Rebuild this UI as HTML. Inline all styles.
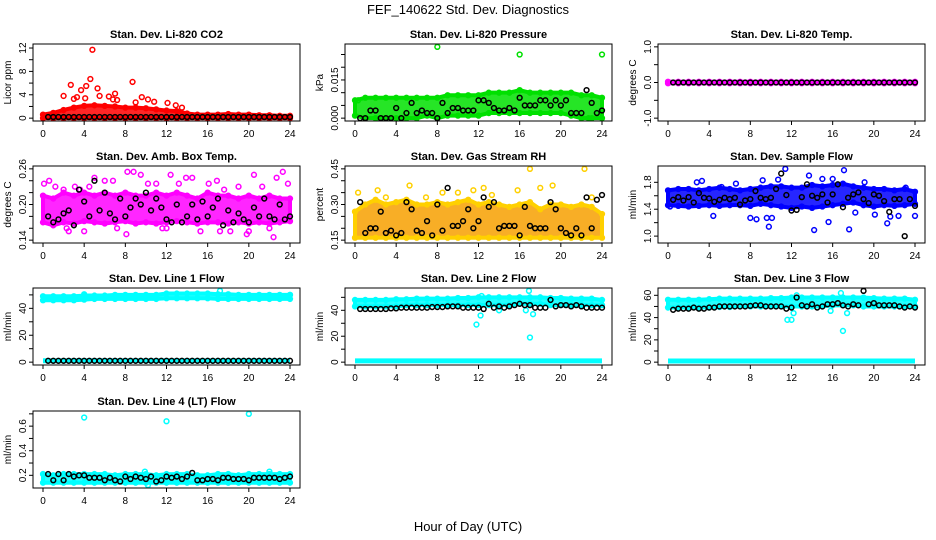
<!DOCTYPE html>
<html><head><meta charset="utf-8">
<style>
html,body{margin:0;padding:0;background:#fff;}
svg{display:block;font-family:"Liberation Sans",sans-serif;}
</style></head>
<body>
<svg id="chart" width="936" height="540" viewBox="0 0 936 540">
<text x="468" y="14" text-anchor="middle" font-size="13">FEF_140622  Std. Dev. Diagnostics</text>
<text x="468" y="531" text-anchor="middle" font-size="13">Hour of Day (UTC)</text>
</svg>
<script>
const HOURS = [0,1,2,3,4,5,6,7,8,9,10,11,12,13,14,15,16,17,18,19,20,21,22,23,24];
const BLACK_T = [0.5,1,1.5,2,2.5,3,3.5,4,4.5,5,5.5,6,6.5,7,7.5,8,8.5,9,9.5,10,10.5,11,11.5,12,12.5,13,13.5,14,14.5,15,15.5,16,16.5,17,17.5,18,18.5,19,19.5,20,20.5,21,21.5,22,22.5,23,23.5,24];
const X_TICKS = [0,4,8,12,16,20,24];

// CO2
const co2Hi = [0.6,0.9,1.4,1.8,2.1,2.2,2.1,2.0,1.8,1.8,1.7,1.5,1.3,1.2,0.8,0.6,0.6,0.6,0.7,0.6,0.6,0.5,0.5,0.4,0.4];
const co2Lo = [0,0,0,0,0,0,0,0,0,0,0,0,0,0,0,0,0,0,0,0,0,0,0,0,0];
const co2Black = [0.2,0.2,0.2,0.2,0.2,0.2,0.2,0.2,0.2,0.2,0.2,0.2,0.2,0.2,0.2,0.2,0.2,0.2,0.2,0.2,0.2,0.2,0.2,0.2,0.2,0.2,0.2,0.2,0.2,0.2,0.2,0.2,0.2,0.2,0.2,0.2,0.2,0.2,0.2,0.2,0.2,0.2,0.2,0.2,0.2,0.2,0.2,0.2];
const co2OutT = [4.8,4.6,2.7,4.2,5.3,3.7,8.7,2.0,7.0,6.4,9.6,3.3,4.1,12.1,10.8,13.5,5.5,6.8,10.2,12.9,3.0,7.2,9.0];
const co2OutV = [11.7,6.7,5.7,5.5,5.1,4.8,6.2,3.8,4.2,3.7,3.6,3.6,3.4,2.6,2.8,1.8,3.8,3.2,3.2,2.2,3.3,3.1,2.7];

// Pressure
const presHi = [0.007,0.008,0.008,0.008,0.008,0.008,0.008,0.008,0.008,0.009,0.009,0.009,0.009,0.010,0.010,0.010,0.011,0.010,0.010,0.010,0.010,0.010,0.009,0.009,0.008];
const presLo = [0.001,0,0,0,0,0,0,0.001,0,0.001,0.001,0.001,0.001,0.002,0.002,0.002,0.002,0.002,0.002,0.002,0.002,0.001,0,0,0];
const presBlack = [0,0,0.003,0.003,0,0,0,0.004,0,0.002,0.006,0.002,0.003,0.002,0.002,0,0.006,0.002,0.004,0.004,0.003,0.003,0.003,0.007,0.007,0.006,0.004,0.003,0.003,0.004,0.003,0.008,0.005,0.005,0.005,0.007,0.007,0.005,0.007,0.005,0.007,0.002,0.002,0.002,0.011,0.006,0.002,0.003];
const presOutT = [8,16,24,22.7,0.3];
const presOutV = [0.028,0.025,0.025,0.000,0.007];

// Li-820 temp
const tempHi = [0.02,0.02,0.02,0.02,0.02,0.02,0.02,0.02,0.02,0.02,0.02,0.02,0.02,0.02,0.02,0.02,0.02,0.02,0.02,0.02,0.02,0.02,0.02,0.02,0.02];
const tempLo = [-0.02,-0.02,-0.02,-0.02,-0.02,-0.02,-0.02,-0.02,-0.02,-0.02,-0.02,-0.02,-0.02,-0.02,-0.02,-0.02,-0.02,-0.02,-0.02,-0.02,-0.02,-0.02,-0.02,-0.02,-0.02];
const tempBlack = [0,0,0,0,0,0,0,0,0,0,0,0,0,0,0,0,0,0,0,0,0,0,0,0,0,0,0,0,0,0,0,0,0,0,0,0,0,0,0,0,0,0,0,0,0,0,0,0];

// Amb box temp
const ambHi = [0.215,0.21,0.22,0.215,0.22,0.215,0.22,0.215,0.22,0.215,0.215,0.22,0.215,0.22,0.215,0.21,0.22,0.215,0.215,0.21,0.215,0.21,0.215,0.21,0.21];
const ambLo = [0.170,0.165,0.170,0.168,0.172,0.170,0.168,0.170,0.172,0.168,0.170,0.168,0.170,0.172,0.170,0.168,0.170,0.170,0.168,0.170,0.168,0.170,0.168,0.170,0.172];
const ambBlack = [0.180,0.170,0.175,0.185,0.190,0.165,0.225,0.205,0.180,0.240,0.190,0.220,0.185,0.175,0.210,0.180,0.195,0.210,0.200,0.220,0.190,0.210,0.195,0.175,0.170,0.200,0.170,0.180,0.200,0.175,0.205,0.180,0.195,0.210,0.165,0.190,0.170,0.185,0.175,0.170,0.195,0.180,0.210,0.180,0.175,0.200,0.175,0.180];
const ambOutT = [0.1,0.6,1.2,2.0,2.5,3.1,3.6,4.5,5.0,6.0,6.8,7.2,8.2,8.8,9.5,10.2,11.0,11.6,12.4,13.2,13.9,14.5,15.3,16.1,16.9,17.6,18.2,19.0,19.8,20.5,21.3,22.0,22.7,23.3,23.8,2.3,4.0,8.1,12.0,17.2,20.0,22.4];
const ambOutV = [0.235,0.24,0.23,0.225,0.155,0.23,0.225,0.23,0.245,0.24,0.24,0.16,0.255,0.255,0.25,0.235,0.235,0.16,0.25,0.235,0.245,0.245,0.155,0.235,0.24,0.225,0.155,0.23,0.15,0.25,0.23,0.16,0.245,0.255,0.235,0.16,0.155,0.15,0.16,0.155,0.155,0.145];

// Gas stream RH
const rhHi = [0.27,0.30,0.32,0.30,0.31,0.32,0.30,0.30,0.31,0.30,0.31,0.32,0.30,0.31,0.30,0.29,0.30,0.31,0.28,0.30,0.30,0.29,0.30,0.29,0.26];
const rhLo = [0.16,0.16,0.16,0.16,0.16,0.16,0.16,0.16,0.16,0.16,0.16,0.16,0.16,0.16,0.16,0.16,0.16,0.16,0.16,0.16,0.16,0.16,0.16,0.16,0.16];
const rhBlack = [0.31,0.18,0.20,0.20,0.27,0.18,0.19,0.17,0.18,0.31,0.28,0.19,0.18,0.23,0.17,0.30,0.19,0.37,0.21,0.21,0.23,0.28,0.20,0.23,0.33,0.29,0.31,0.20,0.21,0.21,0.21,0.17,0.29,0.21,0.20,0.20,0.20,0.31,0.28,0.20,0.18,0.17,0.20,0.17,0.33,0.20,0.32,0.34];
const rhOutT = [0.3,2.2,5.3,8.5,10.0,11.5,12.5,15.8,17.0,19.2,22.3,23.0,3.0,6.9,13.3,18.0];
const rhOutV = [0.35,0.36,0.38,0.35,0.35,0.36,0.37,0.36,0.45,0.38,0.45,0.33,0.33,0.33,0.34,0.37];

// Sample flow
const sfHi = [1.68,1.70,1.70,1.68,1.70,1.72,1.70,1.68,1.70,1.72,1.74,1.74,1.72,1.72,1.76,1.74,1.76,1.78,1.74,1.72,1.70,1.70,1.68,1.70,1.66];
const sfLo = [1.46,1.45,1.44,1.45,1.46,1.45,1.46,1.46,1.45,1.48,1.46,1.44,1.42,1.44,1.42,1.44,1.46,1.48,1.50,1.46,1.44,1.46,1.45,1.46,1.48];
const sfBlack = [1.54,1.58,1.53,1.58,1.50,1.64,1.57,1.56,1.51,1.54,1.57,1.55,1.57,1.47,1.53,1.55,1.67,1.57,1.55,1.57,1.70,1.93,1.61,1.38,1.39,1.58,1.77,1.60,1.57,1.62,1.50,1.62,1.77,1.43,1.57,1.62,1.65,1.55,1.49,1.62,1.60,1.52,1.36,1.55,1.55,1.00,1.55,1.45];
const sfOutT = [0.2,2.8,3.3,4.4,5.2,6.6,8.0,8.6,9.2,9.6,10.1,10.7,11.4,13.7,15.0,15.6,16.0,17.1,17.6,19.1,20.1,21.3,21.6,22.4,23.1,24.0,9.8,14.2,18.2];
const sfOutV = [1.44,1.80,1.82,1.30,1.73,1.78,1.27,1.25,1.83,1.27,1.27,1.84,2.00,1.90,1.85,1.21,1.85,1.98,1.10,1.80,1.32,1.19,1.29,1.30,1.72,1.30,1.14,1.09,1.35];

// Line 1 flow
const l1Hi = [49,49,49,49,49.5,49.5,49.5,50,50,50,50,50,51,51,51,51,51,50.5,50.5,50,50,50,50,50,50];
const l1Lo = [46,46,46,46,46.5,47,47,47,47,47,47,47,47.5,47.5,47.5,47.5,47.5,47,47,47,47,47,47,47,47];
const l1Low = [1,1,1,1,1,1,1,1,1,1,1,1,1,1,1,1,1,1,1,1,1,1,1,1,1];
const l1Black = [1,1,1,1,1,1,1,1,1,1,1,1,1,1,1,1,1,1,1,1,1,1,1,1,1,1,1,1,1,1,1,1,1,1,1,1,1,1,1,1,1,1,1,1,1,1,1,1];
const l1OutT = [17.2,24.0,4.0];
const l1OutV = [53,50,50.5];

// Line 2 flow
const l2Hi = [48,48,48,48,48.5,48.5,49,49,49,49,49.5,49.5,50,50,50,50,50,50,50,49.5,49.5,49,49,49,48];
const l2Lo = [43,43,43,43,43,44,44,44,44,44,44,44,44,44,44,44,45,45,45,44,44,44,44,44,44];
const l2Low = [1,1,1,1,1,1,1,1,1,1,1,1,1,1,1,1,1,1,1,1,1,1,1,1,1];
const l2Black = [41,41,41,41,41,41,41.5,41.5,42,42,42,42,42,42,42.5,42.5,42.5,43,43,43,42,42,42,42,41,45,42,43,42,43,44,45,44,44,42,42,42,48,43,44,44,43,44,43,42,42,42,42];
const l2OutT = [11.8,12.2,12.3,17.0,16.9,17.3,16.6,14.0];
const l2OutV = [29,36,51,19,55,37,40,40];

// Line 3 flow
const l3Hi = [56,56,56,56,56.5,57,57,57,57,57,57.5,57.5,58,58,58,58,58,58,58,58,57.5,57,57,57,56];
const l3Lo = [49,49,49,49,49,49.5,49.5,50,50,50,50,50,50,50,50,50,51,51,51,50,50,50,50,50,50];
const l3Low = [1,1,1,1,1,1,1,1,1,1,1,1,1,1,1,1,1,1,1,1,1,1,1,1,1];
const l3Black = [47,48,48,48,49,48,48,49,49,50,50,50,50,50,50,50.5,51,51,50,50,50,50,48,49,58,51,50,52,49,50,52,52,53,51,50,52,51,64,52,53,51,51,51,51,50,49,50,49];
const l3OutT = [11.6,12.0,12.2,12.5,17.0,16.8,17.4,15.8];
const l3OutV = [38,38,44,60,28,62,44,46];

// Line 4 flow
const l4Hi = [0.21,0.20,0.21,0.21,0.21,0.21,0.21,0.20,0.21,0.21,0.21,0.20,0.21,0.21,0.21,0.20,0.20,0.21,0.21,0.20,0.21,0.21,0.21,0.21,0.21];
const l4Lo = [0.14,0.14,0.14,0.14,0.14,0.14,0.14,0.14,0.14,0.14,0.14,0.14,0.14,0.14,0.14,0.14,0.14,0.14,0.14,0.14,0.14,0.14,0.14,0.14,0.14];
const l4Black = [0.21,0.16,0.21,0.16,0.21,0.19,0.20,0.20,0.18,0.18,0.18,0.16,0.18,0.16,0.15,0.19,0.17,0.19,0.18,0.17,0.19,0.15,0.16,0.19,0.18,0.19,0.17,0.19,0.22,0.16,0.16,0.17,0.17,0.16,0.18,0.18,0.17,0.17,0.17,0.16,0.18,0.18,0.18,0.18,0.18,0.17,0.18,0.19];
const l4OutT = [4.0,12.0,20.0,10.2,9.9,13.0,22.0];
const l4OutV = [0.67,0.64,0.70,0.12,0.23,0.20,0.23];

const COL_X0 = [43,355,668];
const ROW_TOP = [44,166,288,411];
const PLOT_W = 247, BOX_H = 77;

const panels = [
 {name:'co2',title:'Stan. Dev. Li-820 CO2',ylab:'Licor ppm',col:0,row:0,ylim:[0,12.2],ticks:[0,2,4,6,8,10,12],labels:['0','4','8','12'],labelVals:[0,4,8,12],color:'#ff0000',bands:[[co2Lo,co2Hi]],low:null,black:co2Black,outT:co2OutT,outV:co2OutV},
 {name:'pressure',title:'Stan. Dev. Li-820 Pressure',ylab:'kPa',col:1,row:0,ylim:[0,0.028],ticks:[0,0.005,0.01,0.015,0.02,0.025],labels:['0.000','0.015'],labelVals:[0,0.015],color:'#00e000',bands:[[presLo,presHi]],low:null,black:presBlack,outT:presOutT,outV:presOutV},
 {name:'li820-temp',title:'Stan. Dev. Li-820 Temp.',ylab:'degrees C',col:2,row:0,ylim:[-1,1],ticks:[-1,-0.5,0,0.5,1],labels:['-1.0','0.0','1.0'],labelVals:[-1,0,1],color:'#ff00ff',bands:[[tempLo,tempHi]],low:null,black:tempBlack,outT:[],outV:[]},
 {name:'amb-box-temp',title:'Stan. Dev. Amb. Box Temp.',ylab:'degrees C',col:0,row:1,ylim:[0.14,0.26],ticks:[0.14,0.16,0.18,0.2,0.22,0.24,0.26],labels:['0.14','0.20','0.26'],labelVals:[0.14,0.2,0.26],color:'#ff00ff',bands:[[ambLo,ambHi]],low:null,black:ambBlack,outT:ambOutT,outV:ambOutV},
 {name:'gas-stream-rh',title:'Stan. Dev. Gas Stream RH',ylab:'percent',col:1,row:1,ylim:[0.15,0.45],ticks:[0.15,0.2,0.25,0.3,0.35,0.4,0.45],labels:['0.15','0.30','0.45'],labelVals:[0.15,0.3,0.45],color:'#f7a000',stroke:'#ffd000',bands:[[rhLo,rhHi]],low:null,black:rhBlack,outT:rhOutT,outV:rhOutV},
 {name:'sample-flow',title:'Stan. Dev. Sample Flow',ylab:'ml/min',col:2,row:1,ylim:[0.94,2.0],ticks:[1.0,1.2,1.4,1.6,1.8],labels:['1.0','1.4','1.8'],labelVals:[1.0,1.4,1.8],color:'#0000ff',bands:[[sfLo,sfHi]],low:null,black:sfBlack,outT:sfOutT,outV:sfOutV},
 {name:'line1-flow',title:'Stan. Dev. Line 1 Flow',ylab:'ml/min',col:0,row:2,ylim:[0,53],ticks:[0,10,20,30,40,50],labels:['0','20','40'],labelVals:[0,20,40],color:'#00ffff',bands:[[l1Lo,l1Hi]],low:l1Low,black:l1Black,outT:l1OutT,outV:l1OutV},
 {name:'line2-flow',title:'Stan. Dev. Line 2 Flow',ylab:'ml/min',col:1,row:2,ylim:[0,55],ticks:[0,10,20,30,40,50],labels:['0','20','40'],labelVals:[0,20,40],color:'#00ffff',bands:[[l2Lo,l2Hi]],low:l2Low,black:l2Black,outT:l2OutT,outV:l2OutV},
 {name:'line3-flow',title:'Stan. Dev. Line 3 Flow',ylab:'ml/min',col:2,row:2,ylim:[0,64],ticks:[0,10,20,30,40,50,60],labels:['0','20','40','60'],labelVals:[0,20,40,60],color:'#00ffff',bands:[[l3Lo,l3Hi]],low:l3Low,black:l3Black,outT:l3OutT,outV:l3OutV},
 {name:'line4-flow',title:'Stan. Dev. Line 4 (LT) Flow',ylab:'ml/min',col:0,row:3,ylim:[0.12,0.70],ticks:[0.2,0.3,0.4,0.5,0.6,0.7],labels:['0.2','0.4','0.6'],labelVals:[0.2,0.4,0.6],color:'#00ffff',bands:[[l4Lo,l4Hi]],low:null,black:l4Black,outT:l4OutT,outV:l4OutV}
];

const NS='http://www.w3.org/2000/svg';
const svg=document.getElementById('chart');
function mk(tag,attrs,parent){const e=document.createElementNS(NS,tag);for(const k in attrs)e.setAttribute(k,attrs[k]);(parent||svg).appendChild(e);return e;}

panels.forEach(p=>{
  const x0=COL_X0[p.col], top=ROW_TOP[p.row], bottom=top+BOX_H;
  const bl=x0-10, br=x0+PLOT_W+10;
  const [ya,yb]=p.ylim; const ext=(yb-ya)*0.04;
  const u0=ya-ext, u1=yb+ext;
  const X=t=>x0+t/24*PLOT_W;
  const Y=v=>bottom-(v-u0)/(u1-u0)*BOX_H;
  const g=mk('g',{});
  
  
  const clip=mk('g',{},g);
  p.bands.forEach(([lo,hi])=>{
    let pts=HOURS.map((t,i)=>X(t)+','+Y(hi[i])).join(' ')+' '+HOURS.slice().reverse().map((t,j)=>{const i=HOURS.length-1-j;return X(t)+','+Y(lo[i]);}).join(' ');
    const poly=mk('polygon',{points:pts,fill:p.color,'fill-opacity':0.85,stroke:p.stroke||p.color,'stroke-width':4,'stroke-linejoin':'round'},clip);
    
    
    HOURS.forEach((t,i)=>{
      [hi[i],lo[i]].forEach(v=>{
        const c=mk('circle',{cx:X(t),cy:Y(v),r:2.4,fill:'none',stroke:p.stroke||p.color,'stroke-width':1.5},clip);
        
        
      });
    });
  });
  if(p.low){
    const poly=mk('polyline',{points:HOURS.map((t,i)=>X(t)+','+Y(p.low[i])).join(' '),fill:'none',stroke:p.color,'stroke-width':5},clip);
    
    
  }
  p.outT.forEach((t,i)=>{
    const c=mk('circle',{cx:X(t),cy:Y(p.outV[i]),r:2.4,fill:'none',stroke:p.stroke||p.color,'stroke-width':1.5},clip);
    
    
  });
  BLACK_T.forEach((t,i)=>{
    const c=mk('circle',{cx:X(t),cy:Y(p.black[i]),r:2.4,fill:'none',stroke:'#000','stroke-width':1.5},clip);
    
    
  });
  const box=mk('rect',{x:bl,y:top,width:br-bl,height:BOX_H,fill:'none',stroke:'#000','stroke-width':1},g);
  
  
  X_TICKS.forEach(t=>{
    mk('line',{x1:X(t),x2:X(t),y1:bottom,y2:bottom+4,stroke:'#000'},g);
    const tx=mk('text',{x:X(t),y:bottom+16,'text-anchor':'middle','font-size':10},g);
    tx.textContent=t;
    
    
  });
  p.ticks.forEach(v=>{mk('line',{x1:bl-4,x2:bl,y1:Y(v),y2:Y(v),stroke:'#000'},g);});
  p.labels.forEach((lab,i)=>{
    const yy=Y(p.labelVals[i]);
    const tx=mk('text',{x:bl-7,y:yy,'text-anchor':'middle','font-size':10,transform:`rotate(-90 ${bl-7} ${yy})`},g);
    tx.textContent=lab;
    
    
  });
  const yl=mk('text',{x:bl-22,y:top+BOX_H/2,'text-anchor':'middle','font-size':10,transform:`rotate(-90 ${bl-22} ${top+BOX_H/2})`},g);
  yl.textContent=p.ylab;
  
  
  const ti=mk('text',{x:(bl+br)/2,y:top-6,'text-anchor':'middle','font-size':11,'font-weight':'bold'},g);
  ti.textContent=p.title;
  
  
});
</script>
</body></html>
